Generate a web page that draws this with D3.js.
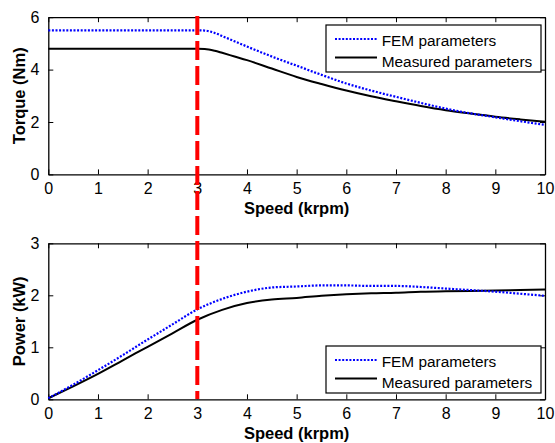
<!DOCTYPE html>
<html>
<head>
<meta charset="utf-8">
<script src="https://cdn.jsdelivr.net/npm/d3@7"></script>
<style>
  html, body { margin: 0; padding: 0; background: #fff; }
  svg { display: block; }
  text { font-family: "Liberation Sans", Arial, sans-serif; fill: #000; }
</style>
</head>
<body>
<div id="chart"></div>
<script>
// ---------------- data ----------------
const speedTorque = [0, 1, 2, 3, 3.15, 3.35, 3.5, 3.75, 4, 4.5, 5, 5.5, 6, 6.5, 7, 7.5, 8, 8.5, 9, 9.5, 10];
const torqueFEM   = [5.5, 5.5, 5.5, 5.5, 5.49, 5.4, 5.28, 5.08, 4.88, 4.5, 4.15, 3.8, 3.47, 3.2, 2.96, 2.73, 2.51, 2.33, 2.18, 2.03, 1.89];
const torqueMeas  = [4.8, 4.8, 4.8, 4.8, 4.79, 4.72, 4.64, 4.5, 4.36, 4.04, 3.72, 3.45, 3.2, 2.98, 2.79, 2.61, 2.45, 2.32, 2.2, 2.1, 2.01];

const speedPower = [0, 0.5, 1, 1.5, 2, 2.5, 3, 3.5, 4, 4.5, 5, 5.5, 6, 6.5, 7, 7.5, 8, 8.5, 9, 9.5, 10];
const powerFEM   = [0.02, 0.28, 0.56, 0.85, 1.15, 1.44, 1.73, 1.93, 2.07, 2.15, 2.17, 2.19, 2.19, 2.18, 2.18, 2.16, 2.13, 2.10, 2.07, 2.03, 1.99];
const powerMeas  = [0.02, 0.25, 0.49, 0.75, 1.01, 1.27, 1.53, 1.72, 1.85, 1.92, 1.95, 1.99, 2.02, 2.04, 2.05, 2.07, 2.08, 2.085, 2.09, 2.10, 2.11];

const baseSpeed = 3;
const xTicks = [0, 1, 2, 3, 4, 5, 6, 7, 8, 9, 10];
const torqueTicks = [0, 2, 4, 6];
const powerTicks = [0, 1, 2, 3];
const seriesNames = ["FEM parameters", "Measured parameters"];
const xLabel = "Speed (krpm)";
const torqueLabel = "Torque (Nm)";
const powerLabel = "Power (kW)";

// ---------------- layout ----------------
const W = 555, H = 443;
const left = 48.3, right = 545;
const panels = [
  { top: 17.2, bottom: 174.4, domain: [0, 6], ticks: torqueTicks, label: torqueLabel,
    xs: speedTorque, fem: torqueFEM, meas: torqueMeas, xLabelY: 214,
    legend: { x: 326, y: 25, w: 215, h: 47 } },
  { top: 243.3, bottom: 399.3, domain: [0, 3], ticks: powerTicks, label: powerLabel,
    xs: speedPower, fem: powerFEM, meas: powerMeas, xLabelY: 438.5,
    legend: { x: 326, y: 346, w: 215, h: 47 } }
];

const svg = d3.select("#chart").append("svg").attr("width", W).attr("height", H);
const x = d3.scaleLinear().domain([0, 10]).range([left, right]);

panels.forEach(p => {
  const y = d3.scaleLinear().domain(p.domain).range([p.bottom, p.top]);
  const g = svg.append("g");

  // axes with inward ticks
  const tickLen = 5;
  const bottomAxis = d3.axisBottom(x).tickValues(xTicks).tickSizeInner(-tickLen).tickSizeOuter(0).tickPadding(8).tickFormat(d3.format("d"));
  const topAxis = d3.axisTop(x).tickValues(xTicks).tickSizeInner(-tickLen).tickSizeOuter(0).tickFormat("");
  const leftAxis = d3.axisLeft(y).tickValues(p.ticks).tickSizeInner(-tickLen).tickSizeOuter(0).tickPadding(9).tickFormat(d3.format("d"));
  const rightAxis = d3.axisRight(y).tickValues(p.ticks).tickSizeInner(-tickLen).tickSizeOuter(0).tickFormat("");

  const gb = g.append("g").attr("transform", `translate(0,${p.bottom})`).call(bottomAxis);
  const gt = g.append("g").attr("transform", `translate(0,${p.top})`).call(topAxis);
  const gl = g.append("g").attr("transform", `translate(${left},0)`).call(leftAxis);
  const gr = g.append("g").attr("transform", `translate(${right},0)`).call(rightAxis);
  [gb, gt, gl, gr].forEach(a => {
    a.select(".domain").attr("stroke", "#000").attr("stroke-width", 1.3);
    a.selectAll(".tick line").attr("stroke", "#000").attr("stroke-width", 1);
    a.selectAll("text").attr("font-family", "Liberation Sans, Arial, sans-serif").attr("font-size", 16).attr("fill", "#000");
  });

  // axis labels
  g.append("text").attr("x", (left + right) / 2).attr("y", p.xLabelY)
    .attr("text-anchor", "middle").attr("font-weight", "bold").attr("font-size", 16.5).text(xLabel);
  g.append("text").attr("transform", `translate(25,${(p.top + p.bottom) / 2}) rotate(-90)`)
    .attr("text-anchor", "middle").attr("font-weight", "bold").attr("font-size", 16.5).text(p.label);

  // lines
  const line = d3.line().x(d => x(d[0])).y(d => y(d[1])).curve(d3.curveMonotoneX);
  g.append("path").datum(p.xs.map((s, i) => [s, p.meas[i]]))
    .attr("d", line).attr("fill", "none").attr("stroke", "#000").attr("stroke-width", 2);
  g.append("path").datum(p.xs.map((s, i) => [s, p.fem[i]]))
    .attr("d", line).attr("fill", "none").attr("stroke", "#0000ff").attr("stroke-width", 2.2)
    .attr("stroke-dasharray", "2,1.6");

  // legend
  const L = p.legend;
  const lg = g.append("g");
  lg.append("rect").attr("x", L.x).attr("y", L.y).attr("width", L.w).attr("height", L.h)
    .attr("fill", "#fff").attr("stroke", "#000").attr("stroke-width", 1.2);
  const rows = [
    { name: seriesNames[0], color: "#0000ff", dash: "2,1.6", ly: 14, ty: 20.7 },
    { name: seriesNames[1], color: "#000", dash: null, ly: 32.5, ty: 41.7 }
  ];
  rows.forEach(r => {
    lg.append("line").attr("x1", L.x + 9).attr("x2", L.x + 51).attr("y1", L.y + r.ly).attr("y2", L.y + r.ly)
      .attr("stroke", r.color).attr("stroke-width", 2.2).attr("stroke-dasharray", r.dash);
    lg.append("text").attr("x", L.x + 55.7).attr("y", L.y + r.ty).attr("font-size", 15.4).text(r.name);
  });
});

// red dashed base-speed line spanning both panels
svg.append("line")
  .attr("x1", x(baseSpeed)).attr("x2", x(baseSpeed))
  .attr("y1", 16).attr("y2", 399)
  .attr("stroke", "#ff0000").attr("stroke-width", 4)
  .attr("stroke-dasharray", "19,6");
</script>
</body>
</html>
